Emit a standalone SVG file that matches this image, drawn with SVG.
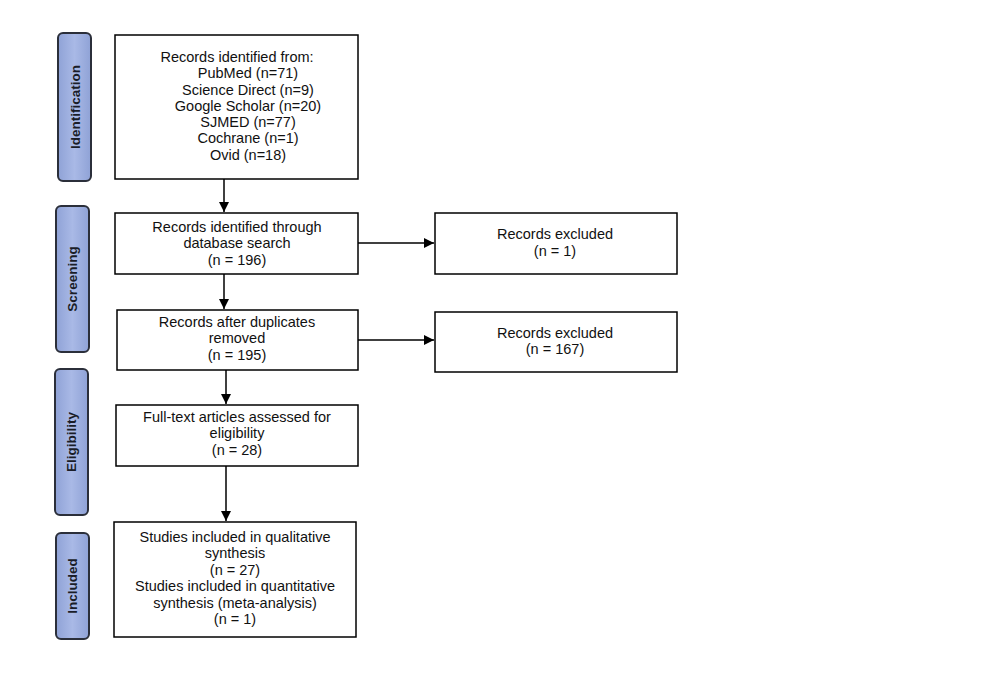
<svg xmlns="http://www.w3.org/2000/svg" width="986" height="673" viewBox="0 0 986 673">
<defs>
<marker id="ah" viewBox="0 0 10 10" refX="10" refY="5" markerWidth="10" markerHeight="10" markerUnits="userSpaceOnUse" orient="auto">
<path d="M0,0 L10,5 L0,10 z" fill="#000"/>
</marker>
<linearGradient id="sg" x1="0" y1="0" x2="1" y2="0">
<stop offset="0" stop-color="#8fa2d6"/>
<stop offset="0.5" stop-color="#a9b9e6"/>
<stop offset="1" stop-color="#8fa2d6"/>
</linearGradient>
</defs>
<style>
.box{fill:#fff;stroke:#000;stroke-width:1.5}
.side{fill:url(#sg);stroke:#2b2f3a;stroke-width:2}
.t{font-family:"Liberation Sans",Arial,sans-serif;font-size:14.5px;fill:#111;text-anchor:middle}
.st{font-family:"Liberation Sans",Arial,sans-serif;font-size:13.5px;font-weight:bold;fill:#1a1d28;text-anchor:middle}
.c{stroke:#000;stroke-width:1.5;fill:none}
</style>
<rect width="986" height="673" fill="#fff"/>
<g id="side-identification">
<rect class="side" x="58" y="33" width="33" height="148" rx="5"/>
<text class="st" transform="translate(79.5,107) rotate(-90)">Identification</text>
</g>
<g id="side-screening">
<rect class="side" x="56" y="206" width="33" height="146" rx="5"/>
<text class="st" transform="translate(77,279) rotate(-90)">Screening</text>
</g>
<g id="side-eligibility">
<rect class="side" x="55" y="369" width="33" height="146" rx="5"/>
<text class="st" transform="translate(76,442) rotate(-90)">Eligibility</text>
</g>
<g id="side-included">
<rect class="side" x="56" y="533" width="33" height="106" rx="5"/>
<text class="st" transform="translate(77,586) rotate(-90)">Included</text>
</g>
<g id="n-identified">
<rect class="box" x="115" y="35" width="243" height="144"/>
<text class="t" x="237" y="62">Records identified from:</text>
<text class="t" x="248" y="78">PubMed (n=71)</text>
<text class="t" x="248" y="95">Science Direct (n=9)</text>
<text class="t" x="248" y="111">Google Scholar (n=20)</text>
<text class="t" x="248" y="127">SJMED (n=77)</text>
<text class="t" x="248" y="143">Cochrane (n=1)</text>
<text class="t" x="248" y="160">Ovid (n=18)</text>
</g>
<g id="n-search">
<rect class="box" x="115" y="213" width="243" height="61"/>
<text class="t" x="237" y="232">Records identified through</text>
<text class="t" x="237" y="248">database search</text>
<text class="t" x="237" y="265">(n = 196)</text>
</g>
<g id="n-dup">
<rect class="box" x="117" y="310" width="241" height="60"/>
<text class="t" x="237" y="327">Records after duplicates</text>
<text class="t" x="237" y="343">removed</text>
<text class="t" x="237" y="360">(n = 195)</text>
</g>
<g id="n-full">
<rect class="box" x="116" y="405" width="242" height="61"/>
<text class="t" x="237" y="422">Full-text articles assessed for</text>
<text class="t" x="237" y="438">eligibility</text>
<text class="t" x="237" y="455">(n = 28)</text>
</g>
<g id="n-included">
<rect class="box" x="114" y="522" width="242" height="115"/>
<text class="t" x="235" y="542">Studies included in qualitative</text>
<text class="t" x="235" y="558">synthesis</text>
<text class="t" x="235" y="575">(n = 27)</text>
<text class="t" x="235" y="591">Studies included in quantitative</text>
<text class="t" x="235" y="608">synthesis (meta-analysis)</text>
<text class="t" x="235" y="624">(n = 1)</text>
</g>
<g id="n-excl1">
<rect class="box" x="435" y="213" width="242" height="61"/>
<text class="t" x="555" y="239">Records excluded</text>
<text class="t" x="555" y="256">(n = 1)</text>
</g>
<g id="n-excl2">
<rect class="box" x="435" y="312" width="242" height="60"/>
<text class="t" x="555" y="338">Records excluded</text>
<text class="t" x="555" y="354">(n = 167)</text>
</g>
<g id="connectors">
<line class="c" x1="224" y1="179" x2="224" y2="212" marker-end="url(#ah)"/>
<line class="c" x1="224" y1="274" x2="224" y2="309" marker-end="url(#ah)"/>
<line class="c" x1="226" y1="370" x2="226" y2="404" marker-end="url(#ah)"/>
<line class="c" x1="226" y1="466" x2="226" y2="521" marker-end="url(#ah)"/>
<line class="c" x1="358" y1="243" x2="434" y2="243" marker-end="url(#ah)"/>
<line class="c" x1="358" y1="340" x2="434" y2="340" marker-end="url(#ah)"/>
</g>
</svg>
